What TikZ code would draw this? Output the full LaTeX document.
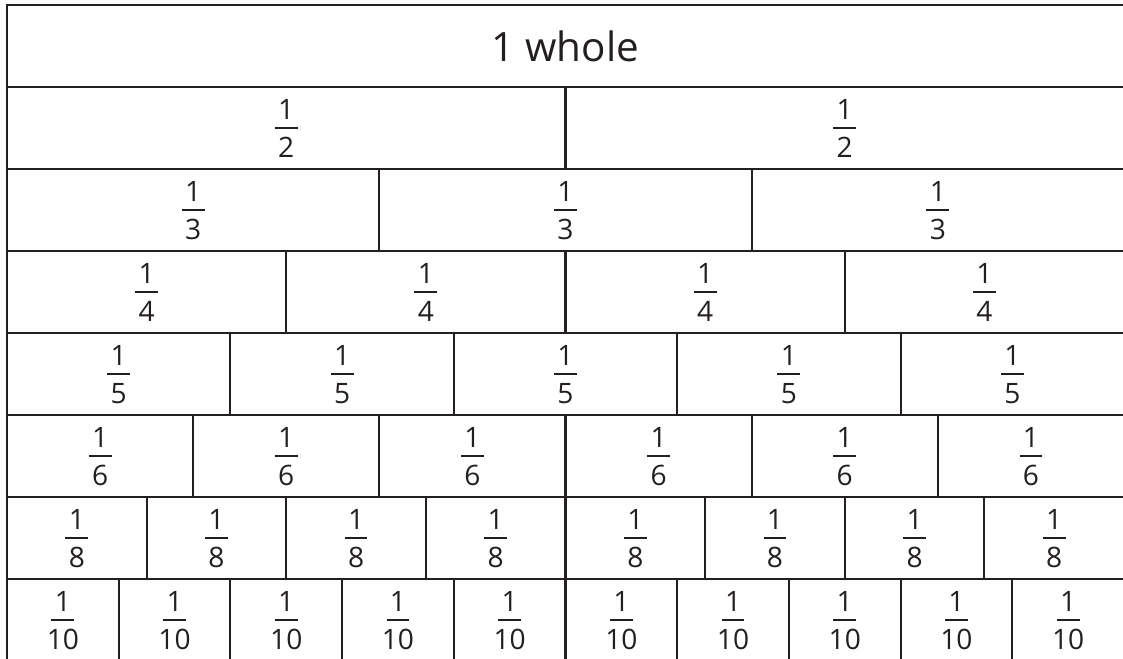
\documentclass[tikz,border=0pt]{standalone}
\usepackage{fontspec}
\setmainfont{Open Sans}
\definecolor{ink}{HTML}{231F20}
\setlength{\arrayrulewidth}{0.8pt}
\newcommand{\frc}[1]{\begin{tabular}{@{}c@{}}\rule{0pt}{17.4pt}\makebox[13pt]{1}\\[-1pt]\hline\rule{0pt}{16.4pt}\makebox[13pt]{#1}\end{tabular}}
\tikzset{cell/.style={draw=ink,line width=1.2pt,text=ink,inner sep=0pt,minimum height=82*0.02cm,font=\fontsize{16}{18}\selectfont},wholecell/.style={cell,minimum width=1117*0.02cm,font=\fontsize{23}{26}\selectfont}}

\begin{document}
\begin{tikzpicture}[x=0.02cm,y=-0.02cm]
\useasboundingbox (0,0) rectangle (1123,659);
\clip (0,0) rectangle (1123,659);
% top row
\node[wholecell] (whole) at (565.5,46) {1 whole};
% one row for each denominator
\foreach \n [count=\r from 1] in {2,3,4,5,6,8,10}{
  \pgfmathsetmacro\w{1117/\n}
  \foreach \i in {1,...,\n}
    \node[cell,minimum width=\w*0.02cm] (f\n-\i) at ({7+(\i-0.5)*\w},{5+(\r+0.5)*82}) {\frc{\n}};
}
\end{tikzpicture}
\end{document}
